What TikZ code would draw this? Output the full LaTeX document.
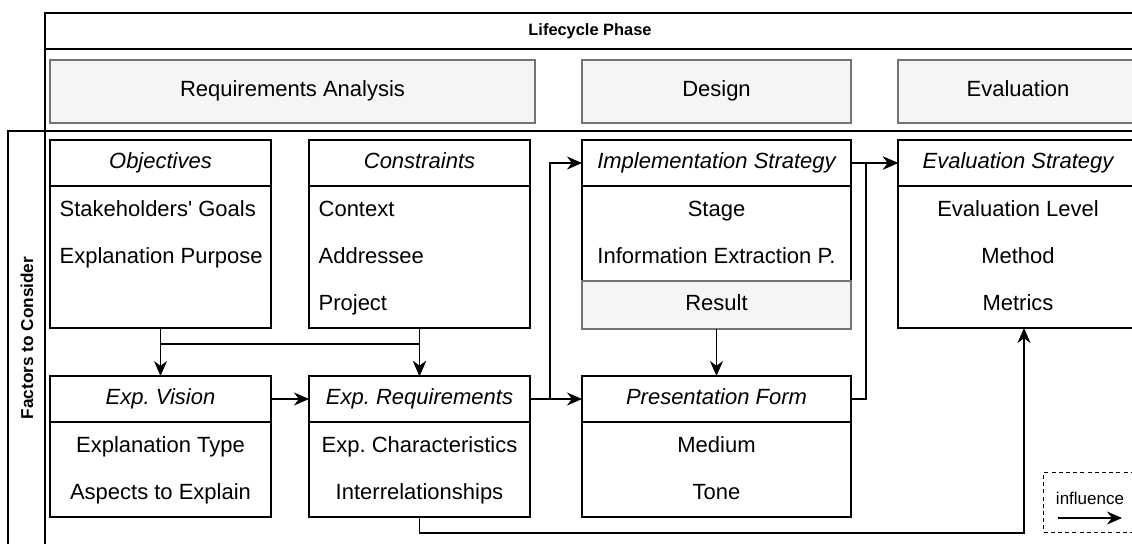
\documentclass[tikz,border=0pt]{standalone}
\usepackage{fontspec}
\setmainfont{Liberation Sans}
\usetikzlibrary{arrows.meta,positioning}
\tikzstyle{phase}  = [draw=black!55, fill=black!4, minimum height=31.5pt, inner sep=0pt, outer sep=0pt, text height=7.6pt, text depth=2.2pt]
\tikzstyle{head}   = [draw, minimum height=23pt, inner sep=0pt, outer sep=0pt, text height=7.6pt, text depth=2.2pt, font=\fontsize{11}{13}\selectfont\itshape]
\tikzstyle{body}   = [draw, inner sep=0pt, outer sep=0pt]
\tikzstyle{item}   = [inner sep=0pt, text height=7.6pt, text depth=2.2pt]
\tikzstyle{line}   = [draw, -{Stealth[length=7.5pt, width=6.5pt]}]

\begin{document}
\frenchspacing
\begin{tikzpicture}[x=0.5pt, y=-0.5pt, line width=0.65pt, font=\fontsize{11}{13}\selectfont]
	\clip (0,0) rectangle (1132,543);
	% Frame %
	\draw (45,600) -- (45,13) -- (1140,13);
	\draw (45,49) -- (1140,49);
	\draw (8,600) -- (8,131) -- (1140,131);
	\node [font=\bfseries\fontsize{8.2}{10}\selectfont] (lifecycle) at (590,31) {Lifecycle Phase};
	\node [rotate=90, font=\bfseries\fontsize{8.6}{10}\selectfont] (factors) at (27,338) {Factors to Consider};
	% Phases %
	\node [phase, minimum width=242.5pt, anchor=north west] (reqph) at (50,60) {Requirements Analysis};
	\node [phase, minimum width=134.5pt, right=23.5pt of reqph] (desph) {Design};
	\node [phase, minimum width=120pt, right=23.5pt of desph] (evaph) {Evaluation};
	% Upper Row %
	\node [head, minimum width=110.5pt, anchor=north west] (obj) at (50,140) {Objectives};
	\node [body, minimum width=110.5pt, minimum height=71pt, below=0pt of obj] (objB) {};
	\node [item, anchor=west] (goals) at ([xshift=4.5pt, yshift=-12.5pt]objB.north west) {Stakeholders\textquotesingle{} Goals};
	\node [item, anchor=west] (purpose) at ([yshift=-23.5pt]goals.west) {Explanation Purpose};
	\node [head, minimum width=110.5pt, right=19pt of obj] (con) {Constraints};
	\node [body, minimum width=110.5pt, minimum height=71pt, below=0pt of con] (conB) {};
	\node [item, anchor=west] (context) at ([xshift=4.5pt, yshift=-12.5pt]conB.north west) {Context};
	\node [item, anchor=west] (addressee) at ([yshift=-23.5pt]context.west) {Addressee};
	\node [item, anchor=west] (project) at ([yshift=-23.5pt]addressee.west) {Project};
	\node [head, minimum width=134.5pt, right=26pt of con] (impl) {Implementation Strategy};
	\node [body, minimum width=134.5pt, minimum height=47.5pt, below=0pt of impl] (implB) {};
	\node [item] (stage) at ([yshift=-12.5pt]implB.north) {Stage};
	\node [item] (extract) at ([yshift=-23.5pt]stage.center) {Information Extraction P.};
	\node [body, draw=black!55, fill=black!4, minimum width=134.5pt, minimum height=24pt, text height=7.6pt, text depth=2.2pt, below=0pt of implB] (implR) {Result};
	\node [head, minimum width=120pt, right=23.5pt of impl] (eva) {Evaluation Strategy};
	\node [body, minimum width=120pt, minimum height=71pt, below=0pt of eva] (evaB) {};
	\node [item] (level) at ([yshift=-12.5pt]evaB.north) {Evaluation Level};
	\node [item] (method) at ([yshift=-23.5pt]level.center) {Method};
	\node [item] (metrics) at ([yshift=-23.5pt]method.center) {Metrics};
	% Lower Row %
	\node [head, minimum width=110.5pt, below=24pt of objB] (vis) {Exp. Vision};
	\node [body, minimum width=110.5pt, minimum height=47.5pt, below=0pt of vis] (visB) {};
	\node [item] (exptype) at ([yshift=-12.5pt]visB.north) {Explanation Type};
	\node [item] (aspects) at ([yshift=-23.5pt]exptype.center) {Aspects to Explain};
	\node [head, minimum width=110.5pt, below=24pt of conB] (req) {Exp. Requirements};
	\node [body, minimum width=110.5pt, minimum height=47.5pt, below=0pt of req] (reqB) {};
	\node [item] (charac) at ([yshift=-12.5pt]reqB.north) {Exp. Characteristics};
	\node [item] (interrel) at ([yshift=-23.5pt]charac.center) {Interrelationships};
	\node [head, minimum width=134.5pt, below=23.5pt of implR] (pre) {Presentation Form};
	\node [body, minimum width=134.5pt, minimum height=47.5pt, below=0pt of pre] (preB) {};
	\node [item] (medium) at ([yshift=-12.5pt]preB.north) {Medium};
	\node [item] (tone) at ([yshift=-23.5pt]medium.center) {Tone};
	% Legend %
	\node [draw, dash pattern=on 2pt off 1.6pt, minimum width=60pt, minimum height=30pt, anchor=north west] (legend) at (1043,472) {};
	\node [item, font=\fontsize{8.5}{10}\selectfont] (infl) at (1090,499) {influence};
	\coordinate (legA) at (1058,518);
	\coordinate (legB) at (1122,518);
	% Connection %
	\path [line] (objB) -- (vis);
	\path [line] (objB.south) -- ([yshift=-8pt]objB.south) -| (req.north);
	\path [line] (conB) -- (req);
	\path [line] (vis) -- (req);
	\path [line] (req) -- (pre);
	\path [line] (req.east) -- ++(10pt,0) |- (impl.west);
	\path [line] (implR) -- (pre);
	\path [line] (impl) -- (eva);
	\path [line] (pre.east) -- ++(7.5pt,0) |- (eva.west);
	\path [line] (reqB.south) -- ++(0,-8pt) -| ([xshift=3pt]evaB.south);
	\path [line] (legA) -- (legB);
\end{tikzpicture}
\end{document}
